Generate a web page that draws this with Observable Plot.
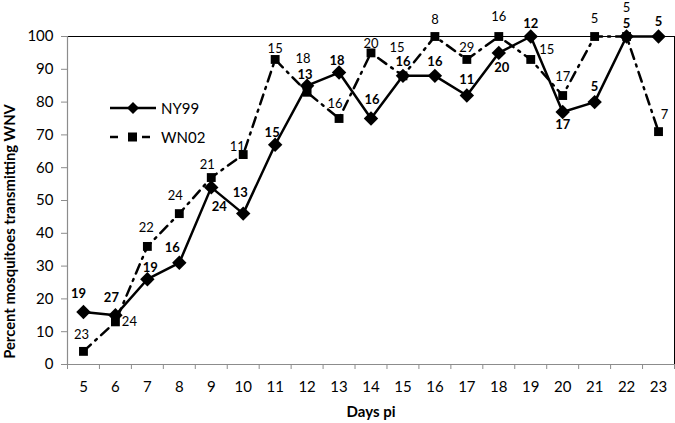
<!DOCTYPE html>
<html>
<head>
<meta charset="utf-8">
<script src="https://cdn.jsdelivr.net/npm/d3@7"></script>
<script src="https://cdn.jsdelivr.net/npm/@observablehq/plot@0.6"></script>
<style>
  html, body { margin: 0; padding: 0; background: #fff; }
  #wrap { position: relative; width: 675px; height: 423px; font-family: Lato, "Open Sans", sans-serif; }
  #legend { position: absolute; left: 0; top: 0; pointer-events: none; }
</style>
</head>
<body>
<div id="wrap"></div>
<script>
// ---- data ----
const days = [5, 6, 7, 8, 9, 10, 11, 12, 13, 14, 15, 16, 17, 18, 19, 20, 21, 22, 23];
const ny99 = [16, 15, 26, 31, 54, 46, 67, 85, 89, 75, 88, 88, 82, 95, 100, 77, 80, 100, 100];
const wn02 = [4, 13, 36, 46, 57, 64, 93, 83, 75, 95, 88, 100, 93, 100, 93, 82, 100, 100, 71];
const ny99N = [19, 27, 19, 16, 24, 13, 15, 13, 18, 16, 16, 16, 11, 20, 12, 17, 5, 5, 5];
const wn02N = [23, 24, 22, 24, 21, 11, 15, 18, 16, 20, 15, 8, 29, 16, 15, 17, 5, 5, 7];
const yTicks = [0, 10, 20, 30, 40, 50, 60, 70, 80, 90, 100];
const seriesNames = ["NY99", "WN02"];

// label placement offsets (px)
const ny99Dx = [-5, -4, 3, -7, 8, -3, -3, -2, -2, 1, 0, 0, 0, 3, 0, 0, 0, 0, 0];
const ny99Dy = [-18, -17, -11, -15, 19, -21, -12, -11, -12, -19, -14, -14, -16, 15, -13, 13, -15, -13, -15];
const wn02Dx = [-2, 14, -1, -4, -4, -6, 0, -4, -4, 0, -6, 0, 0, 0, 16, 0, 0, 0, 6];
const wn02Dy = [-17, 0, -19, -18, -13, -8, -11, -33, -15, -9, -28, -17, -12, -20, -10, -19, -18, -28.5, -17];

const rowsNY = days.map((d, i) => ({day: d, v: ny99[i], n: ny99N[i], i}));
const rowsWN = days.map((d, i) => ({day: d, v: wn02[i], n: wn02N[i], i}));
const bounds = [days[0] - 0.5, ...days.map(d => d + 0.5)];

const font = "Lato, 'Open Sans', sans-serif";
const axisGray = "#8c8c8c";

const labelMarks = [];
rowsNY.forEach(r => labelMarks.push(Plot.text([r], {x: "day", y: "v", text: d => String(d.n), dx: ny99Dx[r.i], dy: ny99Dy[r.i], fontWeight: "bold", fontSize: 13, fill: "#000"})));
rowsWN.forEach(r => labelMarks.push(Plot.text([r], {x: "day", y: "v", text: d => String(d.n), dx: wn02Dx[r.i], dy: wn02Dy[r.i], fontWeight: "normal", fontSize: 13, fill: "#000"})));

const chart = Plot.plot({
  width: 675,
  height: 423,
  marginLeft: 67,
  marginRight: 1,
  marginTop: 36,
  marginBottom: 59,
  style: {fontFamily: font, background: "#fff", color: "#000", overflow: "visible"},
  x: {domain: [days[0] - 0.5, days[days.length - 1] + 0.5]},
  y: {domain: [0, 100]},
  marks: [
    // frame top/right
    Plot.ruleY([100], {stroke: "#000", strokeWidth: 1}),
    Plot.ruleX([bounds[bounds.length - 1]], {stroke: "#000", strokeWidth: 1}),
    // y axis
    Plot.ruleX([bounds[0]], {stroke: axisGray, strokeWidth: 1.2}),
    Plot.axisY({ticks: yTicks, tickSize: 6, tickPadding: 8, fontSize: 15, stroke: axisGray, color: "#000", label: null}),
    // x axis
    Plot.ruleY([0], {stroke: axisGray, strokeWidth: 1.2}),
    Plot.axisX({ticks: bounds, tickSize: 5, tickFormat: () => "", stroke: axisGray, label: null}),
    Plot.axisX({ticks: days, tickSize: 0, tickPadding: 17, fontSize: 15, tickFormat: d => String(d), label: null}),
    // axis titles
    Plot.text(["Days pi"], {frameAnchor: "bottom", dy: 52, fontWeight: "bold", fontSize: 15, fill: "#000"}),
    Plot.text(["Percent mosquitoes transmitting WNV"], {frameAnchor: "left", textAnchor: "middle", rotate: -90, dx: -57, dy: 31, fontWeight: "bold", fontSize: 14.8, fill: "#000"}),
    // lines
    Plot.line(rowsWN, {x: "day", y: "v", stroke: "#000", strokeWidth: 2.5, strokeDasharray: "10,6,2,6"}),
    Plot.line(rowsNY, {x: "day", y: "v", stroke: "#000", strokeWidth: 2.5}),
    Plot.dot(rowsWN, {x: "day", y: "v", symbol: "square", r: 5, fill: "#000", stroke: "none"}),
    Plot.dot(rowsNY, {x: "day", y: "v", symbol: "diamond2", r: 6.5, fill: "#000", stroke: "none"}),
    ...labelMarks
  ]
});

const wrap = document.getElementById("wrap");
wrap.appendChild(chart);

// legend overlay
const ns = "http://www.w3.org/2000/svg";
const lg = document.createElementNS(ns, "svg");
lg.setAttribute("id", "legend");
lg.setAttribute("width", 675);
lg.setAttribute("height", 423);
lg.innerHTML = `
  <line x1="110" y1="108" x2="156" y2="108" stroke="#000" stroke-width="2.5"/>
  <path d="M133,102 L139,108 L133,114 L127,108 Z" fill="#000"/>
  <text x="161" y="113.5" font-family="${font}" font-size="15" fill="#000">${seriesNames[0]}</text>
  <line x1="110" y1="137" x2="118" y2="137" stroke="#000" stroke-width="2.5"/>
  <rect x="128" y="132.5" width="9" height="9" fill="#000"/>
  <line x1="142" y1="137" x2="150" y2="137" stroke="#000" stroke-width="2.5"/>
  <text x="161" y="142.5" font-family="${font}" font-size="15" fill="#000">${seriesNames[1]}</text>
`;
wrap.appendChild(lg);
</script>
</body>
</html>
